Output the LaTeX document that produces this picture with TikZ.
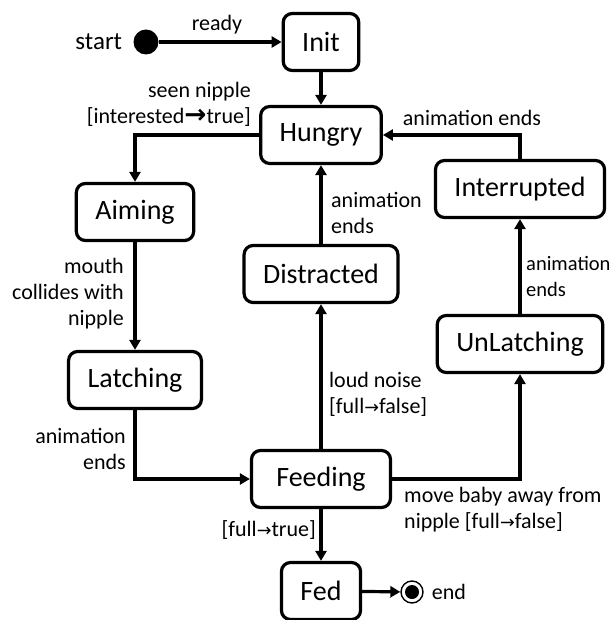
\documentclass[tikz,border=0pt]{standalone}
\usepackage{fontspec}
\setmainfont{Carlito}
\newfontfamily\arrowfont[Scale=0.8]{DejaVu Sans}
\newfontfamily\bigarrowfont[Scale=1.2]{DejaVu Sans Bold}
\newcommand{\toarrow}{{\arrowfont\char"2192}}
\newcommand{\bigtoarrow}{{\bigarrowfont\char"2192}}
\usetikzlibrary{arrows.meta,positioning}

\begin{document}
\begin{tikzpicture}[x=1pt,y=-1pt,
  state/.style={draw, line width=3.2pt, rounded corners=9pt, minimum height=57pt,
    inner xsep=19pt, font=\fontsize{28}{32}\selectfont},
  trans/.style={line width=3.2pt, -{Triangle[length=10pt,width=11pt]}},
  lbl/.style={font=\fontsize{22}{26}\selectfont, inner sep=0pt}]

\useasboundingbox (0,0) rectangle (612,620);

% states
\node[state] (init) at (321,42) {Init};
\node[state] (hungry) at (321,135) {Hungry};
\node[state] (aiming) at (135,212) {Aiming};
\node[state] (latching) at (135,380) {Latching};
\node[state] (distracted) at (321,274) {Distracted};
\node[state] (interrupted) at (520,189) {Interrupted};
\node[state] (unlatching) at (520,344) {UnLatching};
\node[state, minimum width=139pt] (feeding) at (321,479) {Feeding};
\node[state] (fed) at (321,591) {Fed};

% pseudo states
\node[circle, fill, inner sep=0pt, minimum size=25pt] (start) at (146,42) {};
\node[circle, draw, line width=1.4pt, inner sep=0pt, minimum size=22pt] (end) at (412,592) {};
\fill (end) circle (7pt);

% transitions
\draw[trans] (start) -- (init);
\draw[trans] (init) -- (hungry);
\draw[trans] (hungry.west) -| (aiming.north);
\draw[trans] (aiming) -- (latching);
\draw[trans] (latching.south) |- (feeding.west);
\draw[trans] (feeding) -- (distracted);
\draw[trans] (distracted) -- (hungry);
\draw[trans] (feeding.east) -| (unlatching.south);
\draw[trans] (unlatching) -- (interrupted);
\draw[trans] (interrupted.north) |- (hungry.east);
\draw[trans] (feeding) -- (fed);
\draw[trans] (fed) -- (end);

% labels
\node[lbl, font=\fontsize{25}{30}\selectfont, left=11pt of start] (startlbl) {start};
\node[lbl, right=8pt of end] (endlbl) {end};
\node[lbl] (ready) at (217,25) {ready};
\node[lbl, anchor=east, align=right] (seen) at (251,104) {seen nipple\\{}[interested\bigtoarrow true]};
\node[lbl, anchor=east, align=right] (mouth) at (124,294) {mouth\\collides with\\nipple};
\node[lbl, anchor=east, align=right] (latchend) at (126,449) {animation\\ends};
\node[lbl, anchor=west, align=left] (noise) at (329,394) {loud noise\\{}[full\toarrow false]};
\node[lbl, anchor=west, align=left] (distend) at (331,213) {animation\\ends};
\node[lbl] (interend) at (472,118) {animation ends};
\node[lbl, font=\fontsize{20.5}{26}\selectfont, anchor=west, align=left] (unlatchend) at (526,276) {animation\\ends};
\node[lbl, anchor=west, align=left] (moveaway) at (404,510) {move baby away from\\nipple [full\toarrow false]};
\node[lbl, anchor=east] (full) at (316,530) {[full\toarrow true]};

\end{tikzpicture}
\end{document}
